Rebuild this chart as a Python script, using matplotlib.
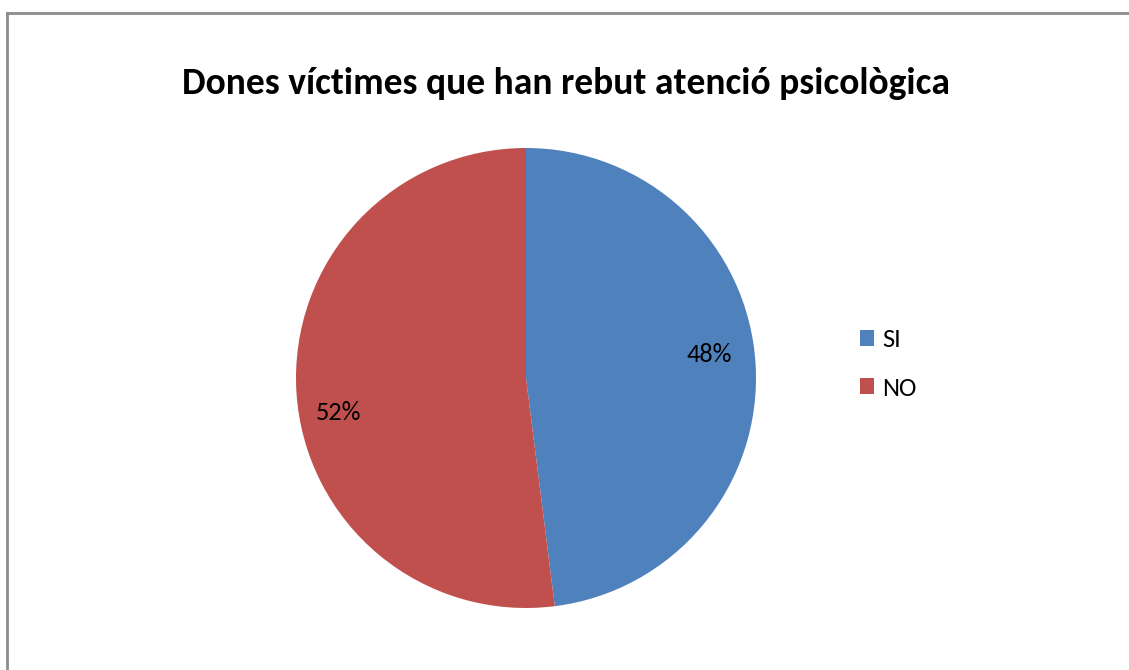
import matplotlib
matplotlib.use("Agg")
import matplotlib.pyplot as plt
from matplotlib.lines import Line2D
from matplotlib.patches import Patch

title = "Dones víctimes que han rebut atenció psicològica"
categories = ["SI", "NO"]
values = [48, 52]
colors = ["#4F81BD", "#C0504D"]

W, H = 1129, 670
fig = plt.figure(figsize=(W / 100, H / 100), dpi=100)
plt.rcParams['font.family'] = ['Carlito', 'Liberation Sans', 'DejaVu Sans']

# border (top and left visible, extends beyond image)
fig.add_artist(Line2D([7 / W, 7 / W], [0, 1 - 13 / H], transform=fig.transFigure,
                      color="#8c8c8c", lw=2))
fig.add_artist(Line2D([7 / W, 1], [1 - 13 / H, 1 - 13 / H], transform=fig.transFigure,
                      color="#8c8c8c", lw=2))

cx, cy, r = 526, 378, 230
ax = fig.add_axes([(cx - r) / W, (H - cy - r) / H, 2 * r / W, 2 * r / H])
wedges, texts, autotexts = ax.pie(values, colors=colors, startangle=90, counterclock=False,
                                  autopct=lambda p: f"{p:.0f}%", pctdistance=0.8,
                                  textprops=dict(fontsize=19, color="black"),
                                  wedgeprops=dict(linewidth=0))
# nudge labels to match Excel best-fit placement
autotexts[0].set_position((autotexts[0].get_position()[0], autotexts[0].get_position()[1] + 0.05))
autotexts[1].set_position((autotexts[1].get_position()[0] - 0.015, autotexts[1].get_position()[1] - 0.1))
ax.set_aspect("equal")
ax.set_xlim(-1, 1)
ax.set_ylim(-1, 1)
ax.axis("off")

fig.text(566 / W, 1 - 83 / H, title, ha="center", va="center", fontsize=27, fontweight="bold")

handles = [Patch(facecolor=c, edgecolor="none") for c in colors]
fig.legend(handles, categories, loc="center left", bbox_to_anchor=(842 / W, 1 - 364 / H),
           frameon=False, fontsize=19, handlelength=0.53, handleheight=0.53,
           handletextpad=0.3, labelspacing=0.95, borderpad=0.2)

fig.savefig("out.png", dpi=100, facecolor="white")
